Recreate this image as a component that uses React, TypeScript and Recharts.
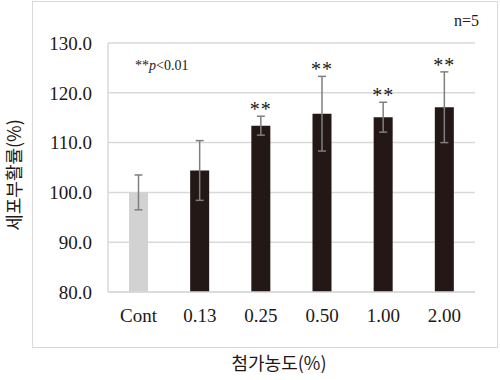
import { BarChart, Bar, XAxis, YAxis, CartesianGrid, ErrorBar, Cell, LabelList } from "recharts";

const categories = ["Cont", "0.13", "0.25", "0.50", "1.00", "2.00"];
const means = [100.0, 104.4, 113.4, 115.8, 115.1, 117.1];
const sds = [3.5, 6.0, 1.9, 7.5, 3.0, 7.1];
const marks = ["", "", "**", "**", "**", "**"];
const yTicks = [80, 90, 100, 110, 120, 130];

const Y_MIN = 80;
const SERIF = '"Liberation Serif", "Times New Roman", serif';
const SANS = '"Noto Sans CJK KR", "Noto Sans", sans-serif';
const INK = "#231815";
const GRID = "#d9d9d9";

const data = categories.map((c, i) => ({ name: c, value: means[i], err: sds[i], mark: marks[i] }));

// stars sit just above the top of the error bar
function renderMark(props: any) {
  const { x, y, width, height, index } = props;
  const d = data[index];
  if (!d.mark) return null;
  const pxPerUnit = height / (d.value - Y_MIN);
  const errTop = y - d.err * pxPerUnit;
  return (
    <text
      x={x + width / 2}
      y={errTop}
      textAnchor="middle"
      fill={INK}
      fontSize={20}
      fontFamily={SERIF}
      letterSpacing={1}
    >
      {d.mark}
    </text>
  );
}

export default function App() {
  return (
    <div style={{ position: "absolute", left: 0, top: 0, width: 500, height: 380, background: "#fff" }}>
      <div
        style={{
          position: "absolute",
          left: 32,
          top: 1,
          width: 464,
          height: 345,
          border: `1.5px solid ${GRID}`,
        }}
      />
      <div style={{ position: "absolute", left: 0, top: 0 }}>
        <BarChart width={500} height={380} data={data} margin={{ top: 43, right: 25, bottom: 58, left: 0 }}>
          <CartesianGrid horizontal vertical={false} stroke={GRID} strokeWidth={1.5} />
          <XAxis
            dataKey="name"
            height={30}
            axisLine={{ stroke: GRID, strokeWidth: 1.5 }}
            tickLine={false}
            tickMargin={11}
            tick={{ fontSize: 19, fontFamily: SERIF, fill: INK }}
          />
          <YAxis
            width={108}
            domain={[80, 130]}
            ticks={yTicks}
            interval={0}
            axisLine={{ stroke: GRID, strokeWidth: 1.5 }}
            tickLine={false}
            tickMargin={10}
            tickFormatter={(v: number) => v.toFixed(1)}
            tick={{ fontSize: 19, fontFamily: SERIF, fill: INK }}
          />
          <Bar dataKey="value" barSize={19} isAnimationActive={false}>
            {data.map((d, i) => (
              <Cell key={d.name} fill={i === 0 ? "#d2d2d2" : INK} />
            ))}
            <ErrorBar dataKey="err" width={4} stroke="#7f7f7f" strokeWidth={1.5} direction="y" />
            <LabelList dataKey="mark" content={renderMark} />
          </Bar>
        </BarChart>
      </div>
      <div
        style={{
          position: "absolute",
          left: 135,
          top: 58,
          fontFamily: SERIF,
          fontSize: 14,
          color: INK,
          whiteSpace: "nowrap",
        }}
      >
        **<i>p</i>&lt;0.01
      </div>
      <div
        style={{
          position: "absolute",
          left: 454,
          top: 12,
          fontFamily: SERIF,
          fontSize: 16,
          color: INK,
        }}
      >
        n=5
      </div>
      <div
        style={{
          position: "absolute",
          left: 13,
          top: 175,
          transform: "translate(-50%, -50%) rotate(-90deg)",
          fontFamily: SANS,
          fontSize: 18,
          color: INK,
          whiteSpace: "nowrap",
        }}
      >
        세포부활률(%)
      </div>
      <div
        style={{
          position: "absolute",
          left: 279,
          top: 362,
          transform: "translate(-50%, -50%)",
          fontFamily: SANS,
          fontSize: 18,
          color: INK,
          whiteSpace: "nowrap",
        }}
      >
        첨가농도(%)
      </div>
    </div>
  );
}
